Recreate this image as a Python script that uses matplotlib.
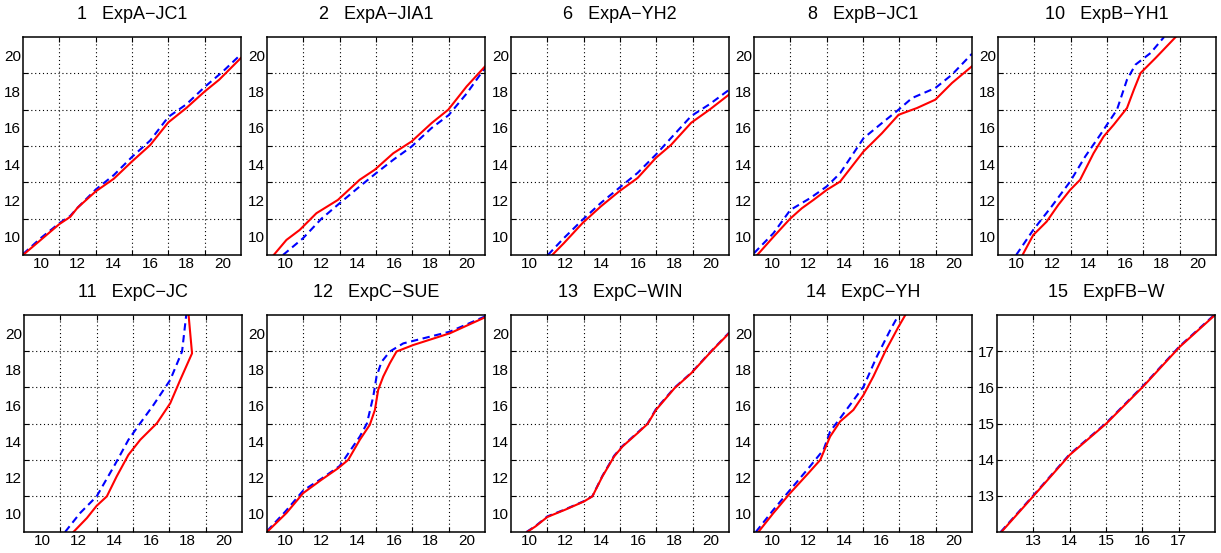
import matplotlib
matplotlib.use("Agg")
import matplotlib.pyplot as plt

plt.rcParams['font.family'] = ['Liberation Sans', 'DejaVu Sans']

titles = ["1   ExpA\u2212JC1", "2   ExpA\u2212JIA1", "6   ExpA\u2212YH2", "8   ExpB\u2212JC1", "10   ExpB\u2212YH1",
          "11   ExpC\u2212JC", "12   ExpC\u2212SUE", "13   ExpC\u2212WIN", "14   ExpC\u2212YH", "15   ExpFB\u2212W"]

# panel 1
p1_red_x = [9, 10, 11, 11.6, 12, 13, 14, 15, 16, 17, 18, 19, 19.8, 21]
p1_red_y = [9, 9.85, 10.7, 11.1, 11.6, 12.5, 13.2, 14.15, 15.05, 16.3, 17.1, 18.0, 18.65, 19.85]
p1_blue_x = [9, 10, 11, 11.6, 12, 13, 14, 15, 16, 17, 18, 19, 20, 21]
p1_blue_y = [9.05, 9.95, 10.75, 11.15, 11.6, 12.6, 13.4, 14.4, 15.3, 16.6, 17.3, 18.25, 19.1, 20.05]
# panel 2
p2_red_x = [9.37, 10.07, 10.8, 11.72, 12.9, 14.1, 14.94, 15.95, 16.96, 18.06, 18.98, 19.99, 21]
p2_red_y = [9, 9.83, 10.38, 11.3, 12.03, 13.14, 13.7, 14.6, 15.25, 16.26, 17.0, 18.28, 19.38]
p2_blue_x = [9.88, 10.98, 12.0, 13.0, 14.1, 15.0, 15.95, 16.96, 18.06, 19.0, 20.0, 21]
p2_blue_y = [9, 9.92, 11.0, 11.85, 12.77, 13.5, 14.24, 14.97, 15.99, 16.7, 17.9, 19.3]
# panel 3
p3_red_x = [11.27, 11.9, 12.93, 13.94, 14.95, 15.97, 16.98, 17.8, 18.92, 19.93, 21]
p3_red_y = [9, 9.64, 10.75, 11.67, 12.5, 13.24, 14.35, 15.05, 16.28, 17.0, 17.83]
p3_blue_x = [11.03, 11.9, 12.93, 13.94, 14.95, 15.97, 16.98, 17.9, 18.92, 19.93, 21]
p3_blue_y = [9, 9.92, 10.93, 11.86, 12.69, 13.52, 14.53, 15.54, 16.65, 17.3, 18.09]
# panel 4
p4_red_x = [9.18, 10.07, 10.99, 11.63, 12.27, 13.0, 13.74, 15.03, 16.04, 16.96, 17.97, 18.98, 19.9, 21]
p4_red_y = [9, 10.0, 11.0, 11.57, 12.03, 12.58, 13.04, 14.7, 15.7, 16.72, 17.09, 17.55, 18.47, 19.39]
p4_blue_x = [9, 10.07, 11.0, 12.09, 13.0, 13.74, 15.03, 16.04, 16.96, 17.7, 18.98, 19.9, 21]
p4_blue_y = [9.1, 10.2, 11.48, 12.13, 12.77, 13.5, 15.43, 16.26, 17.0, 17.64, 18.19, 18.93, 20.08]
# panel 5
p5_red_x = [10.35, 10.94, 11.68, 12.32, 12.97, 13.52, 14.26, 14.82, 15.37, 16.1, 16.48, 16.85, 17.68, 18.78]
p5_red_y = [9, 10.1, 10.84, 11.76, 12.58, 13.14, 14.6, 15.53, 16.17, 17.09, 18.1, 19.02, 19.85, 21]
p5_blue_x = [10.0, 10.94, 11.95, 12.97, 13.8, 14.63, 15.55, 16.1, 16.57, 17.4, 18.14]
p5_blue_y = [9, 10.38, 11.67, 13.04, 14.42, 15.62, 17.0, 18.65, 19.48, 20.12, 21]
# panel 6
p6_red_x = [11.72, 12.46, 13.0, 13.56, 14.1, 14.75, 15.4, 16.32, 17.05, 17.6, 18.25, 18.15, 18.06]
p6_red_y = [9, 9.77, 10.45, 10.97, 12.07, 13.27, 14.1, 15.02, 16.12, 17.41, 18.88, 19.99, 21]
p6_blue_x = [11.26, 12.09, 13.0, 14.0, 14.75, 15.4, 16.13, 17.05, 17.7, 17.93]
p6_blue_y = [9, 10.05, 10.97, 12.72, 14.1, 15.02, 16.03, 17.41, 18.98, 21]
# panel 7
p7_red_x = [9, 10.07, 10.99, 12.0, 12.92, 13.47, 14.11, 14.66, 14.94, 15.12, 15.4, 15.76, 16.13, 17.05, 19.07, 21]
p7_red_y = [9, 10.05, 11.15, 11.89, 12.53, 12.99, 14.1, 14.93, 15.75, 16.86, 17.6, 18.33, 18.98, 19.34, 19.99, 20.87]
p7_blue_x = [9, 10, 11, 12, 13, 14.11, 14.5, 14.85, 15.03, 15.3, 15.76, 16.5, 19.07, 21]
p7_blue_y = [9.05, 10.12, 11.3, 11.95, 12.65, 14.28, 15.0, 16.5, 17.6, 18.4, 18.98, 19.43, 20.08, 20.92]
# panel 8
p8_red_x = [9.88, 10.35, 11.0, 12.0, 13.02, 13.48, 14.03, 14.68, 15.14, 15.97, 16.52, 16.98, 18.0, 18.92, 20.02, 21]
p8_red_y = [9, 9.31, 9.83, 10.24, 10.69, 10.97, 12.07, 13.18, 13.73, 14.47, 14.98, 15.75, 16.95, 17.78, 18.98, 19.99]
p8_blue_x = [9.85, 10.35, 11.0, 12.0, 13.02, 13.48, 14.03, 14.68, 15.14, 15.97, 16.52, 16.98, 18.0, 18.92, 20.02, 21]
p8_blue_y = [9, 9.33, 9.86, 10.26, 10.71, 10.98, 12.1, 13.22, 13.76, 14.5, 15.0, 15.8, 16.98, 17.8, 19.0, 20.02]
# panel 9
p9_red_x = [9.24, 10.07, 10.99, 12.0, 12.65, 13.19, 13.74, 14.47, 15.03, 15.57, 16.22, 16.96, 17.33]
p9_red_y = [9, 10.05, 11.15, 12.26, 12.99, 14.28, 15.11, 15.75, 16.58, 17.6, 18.98, 20.36, 21]
p9_blue_x = [9.1, 10.07, 10.99, 12.0, 12.83, 13.19, 13.74, 15.03, 15.76, 16.5, 16.96]
p9_blue_y = [9, 10.23, 11.33, 12.53, 13.55, 14.56, 15.29, 17.04, 18.7, 20.17, 21]
# panel 10
p10_red_x = [12.12, 12.99, 14.0, 15.01, 16.02, 17.03, 18.0]
p10_red_y = [12, 12.98, 14.13, 15.0, 16.02, 17.12, 18.0]
p10_blue_x = [12.1, 12.99, 14.0, 15.01, 16.02, 17.03, 18.0]
p10_blue_y = [12, 13.0, 14.15, 15.02, 16.04, 17.14, 18.02]

reds = [(p1_red_x, p1_red_y), (p2_red_x, p2_red_y), (p3_red_x, p3_red_y), (p4_red_x, p4_red_y),
        (p5_red_x, p5_red_y), (p6_red_x, p6_red_y), (p7_red_x, p7_red_y), (p8_red_x, p8_red_y),
        (p9_red_x, p9_red_y), (p10_red_x, p10_red_y)]
blues = [(p1_blue_x, p1_blue_y), (p2_blue_x, p2_blue_y), (p3_blue_x, p3_blue_y), (p4_blue_x, p4_blue_y),
         (p5_blue_x, p5_blue_y), (p6_blue_x, p6_blue_y), (p7_blue_x, p7_blue_y), (p8_blue_x, p8_blue_y),
         (p9_blue_x, p9_blue_y), (p10_blue_x, p10_blue_y)]

grid_ticks = [11, 13, 15, 17, 19]
label_ticks = [10, 12, 14, 16, 18, 20]
fb_ticks = [13, 14, 15, 16, 17]

W, H = 1221, 553
fig = plt.figure(figsize=(W / 100, H / 100), dpi=100)

lefts_r1 = [23, 267, 511, 754, 998]
lefts_r2 = [24, 267, 511, 754, 997]
aw = 218

for i in range(10):
    if i < 5:
        l, top, bot = lefts_r1[i], 37, 255
    else:
        l, top, bot = lefts_r2[i - 5], 315, 532
    ax = fig.add_axes([l / W, (H - bot) / H, aw / W, (bot - top) / H])
    bx, by = blues[i]
    rx, ry = reds[i]
    ax.plot(bx, by, color=(0, 0, 1), lw=1.5, linestyle=(0, (3.5, 2.2)))
    ax.plot(rx, ry, color=(1, 0, 0), lw=1.5)
    if i < 9:
        ax.set_xlim(9, 21)
        ax.set_ylim(9, 21)
        ax.set_xticks(grid_ticks)
        ax.set_yticks(grid_ticks)
        ax.set_xticklabels([])
        ax.set_yticklabels([])
        ax.set_xticks(label_ticks, [str(v) for v in label_ticks], minor=True)
        ax.set_yticks(label_ticks, [str(v) for v in label_ticks], minor=True)
    else:
        ax.set_xlim(12, 18)
        ax.set_ylim(12, 18)
        ax.set_xticks(fb_ticks, [str(v) for v in fb_ticks])
        ax.set_yticks(fb_ticks, [str(v) for v in fb_ticks])
    ax.tick_params(which='major', direction='in', length=3.5, width=0.8,
                   top=True, right=True, labelsize=11, pad=1.5)
    ax.tick_params(which='minor', length=0, labelsize=11, pad=1.5)
    ax.grid(True, which='major', color='black', linestyle=(0, (1, 2.5)), linewidth=0.8)
    for sp in ax.spines.values():
        sp.set_linewidth(1.1)
    ax.set_title(titles[i], fontsize=13, pad=13)

fig.savefig("out.png", dpi=100)
